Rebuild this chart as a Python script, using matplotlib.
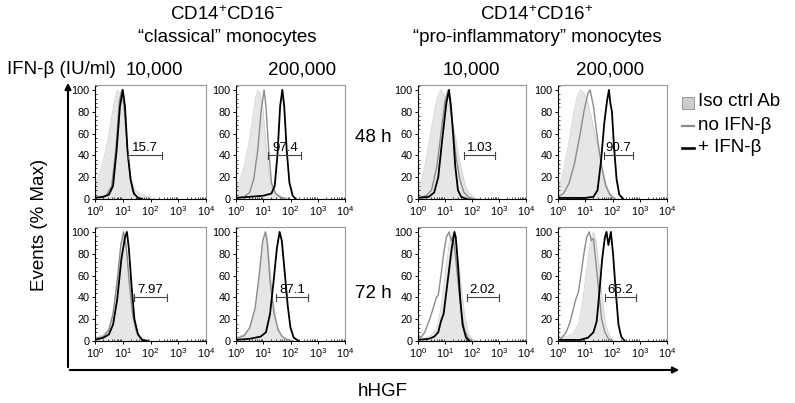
import matplotlib
matplotlib.use('Agg')
import matplotlib.pyplot as plt
from matplotlib.ticker import FixedLocator, MultipleLocator
import numpy as np

plt.rcParams['font.family'] = ['Liberation Sans', 'DejaVu Sans']
plt.rcParams['mathtext.fontset'] = 'custom'
plt.rcParams['mathtext.rm'] = 'Liberation Sans'
plt.rcParams['mathtext.it'] = 'Liberation Sans:italic'

#--- Datos: histogramas (x en decadas log10, y en % del maximo)
# 48 h, CD14+CD16-, 10,000
iso_48_c10 = [(0, 14), (0.15, 22), (0.3, 35), (0.45, 52), (0.6, 75), (0.72, 92), (0.8, 100), (0.9, 97), (1.0, 88),
              (1.1, 62), (1.2, 35), (1.3, 18), (1.45, 8), (1.6, 5), (1.8, 3), (2.0, 1), (2.2, 0)]
no_48_c10 = [(0, 1), (0.4, 3), (0.6, 12), (0.75, 45), (0.88, 90), (0.97, 100), (1.07, 80), (1.2, 35), (1.35, 8),
             (1.5, 2), (1.7, 0)]
ifn_48_c10 = [(0, 1), (0.3, 2), (0.5, 4), (0.65, 12), (0.78, 45), (0.9, 85), (1.0, 100), (1.08, 85), (1.17, 45),
              (1.28, 18), (1.4, 5), (1.55, 1), (1.7, 0)]
# 48 h, CD14+CD16-, 200,000
iso_48_c200 = [(0, 10), (0.15, 18), (0.3, 30), (0.45, 48), (0.6, 72), (0.72, 93), (0.8, 100), (0.9, 95), (1.0, 80),
               (1.1, 50), (1.2, 25), (1.32, 10), (1.5, 5), (1.7, 2), (1.9, 0)]
no_48_c200 = [(0, 1), (0.3, 2), (0.5, 6), (0.65, 18), (0.8, 45), (0.92, 80), (1.03, 100), (1.1, 85), (1.2, 45),
              (1.3, 15), (1.45, 5), (1.6, 2), (1.8, 0)]
ifn_48_c200 = [(0, 1), (0.5, 2), (1.0, 3), (1.3, 5), (1.42, 12), (1.52, 40), (1.62, 85), (1.7, 100), (1.77, 85),
               (1.86, 45), (1.96, 15), (2.08, 3), (2.2, 0)]
# 48 h, CD14+CD16+, 10,000
iso_48_p10 = [(0, 10), (0.1, 14), (0.25, 30), (0.4, 50), (0.55, 72), (0.7, 92), (0.85, 100), (0.95, 96), (1.1, 88),
              (1.25, 75), (1.4, 55), (1.5, 40), (1.6, 28), (1.75, 12), (1.9, 5), (2.1, 1), (2.3, 0)]
no_48_p10 = [(0, 1), (0.3, 3), (0.5, 8), (0.7, 30), (0.85, 60), (1.0, 90), (1.12, 100), (1.25, 75), (1.4, 40),
             (1.55, 18), (1.7, 6), (1.9, 1), (2.1, 0)]
ifn_48_p10 = [(0, 1), (0.4, 2), (0.6, 6), (0.75, 20), (0.9, 55), (1.05, 88), (1.15, 100), (1.22, 85), (1.3, 60),
              (1.38, 30), (1.48, 8), (1.6, 2), (1.8, 0)]
# 48 h, CD14+CD16+, 200,000
iso_48_p200 = [(0, 12), (0.1, 16), (0.25, 32), (0.4, 52), (0.55, 75), (0.7, 94), (0.82, 100), (0.95, 97), (1.1, 88),
               (1.25, 72), (1.4, 55), (1.55, 38), (1.7, 20), (1.85, 8), (2.0, 2), (2.2, 0)]
no_48_p200 = [(0, 2), (0.2, 5), (0.4, 14), (0.6, 32), (0.8, 58), (0.95, 80), (1.1, 97), (1.18, 100), (1.3, 85),
              (1.45, 55), (1.6, 30), (1.75, 12), (1.9, 4), (2.1, 0)]
ifn_48_p200 = [(0, 1), (1.0, 1), (1.3, 2), (1.45, 8), (1.58, 35), (1.7, 70), (1.8, 90), (1.87, 100), (1.92, 88),
               (1.98, 80), (2.05, 50), (2.15, 18), (2.25, 4), (2.4, 0)]
# 72 h, CD14+CD16-, 10,000
iso_72_c10 = [(0, 3), (0.3, 6), (0.5, 12), (0.65, 25), (0.8, 55), (0.92, 85), (1.02, 100), (1.12, 90), (1.22, 60),
              (1.32, 32), (1.45, 12), (1.6, 5), (1.8, 1), (2.0, 0)]
no_72_c10 = [(0, 2), (0.3, 4), (0.5, 10), (0.65, 25), (0.8, 55), (0.93, 88), (1.03, 100), (1.13, 85), (1.23, 55),
             (1.35, 25), (1.5, 8), (1.7, 1), (1.9, 0)]
ifn_72_c10 = [(0, 1), (0.3, 3), (0.5, 6), (0.65, 15), (0.8, 38), (0.95, 75), (1.08, 95), (1.15, 100), (1.22, 85),
              (1.32, 50), (1.42, 20), (1.55, 6), (1.7, 1), (1.9, 0)]
# 72 h, CD14+CD16-, 200,000
iso_72_c200 = [(0, 3), (0.3, 6), (0.5, 12), (0.7, 30), (0.85, 60), (0.98, 90), (1.08, 100), (1.15, 95), (1.25, 65),
               (1.35, 38), (1.5, 15), (1.65, 5), (1.85, 1), (2.0, 0)]
no_72_c200 = [(0, 2), (0.3, 5), (0.5, 12), (0.7, 30), (0.85, 60), (0.98, 92), (1.08, 100), (1.15, 90), (1.25, 55),
              (1.4, 25), (1.55, 10), (1.7, 4), (1.9, 1), (2.1, 0)]
ifn_72_c200 = [(0, 1), (0.5, 2), (0.9, 4), (1.1, 8), (1.25, 25), (1.38, 55), (1.5, 85), (1.6, 100), (1.68, 92),
               (1.78, 65), (1.9, 32), (2.0, 12), (2.12, 3), (2.3, 0)]
# 72 h, CD14+CD16+, 10,000
iso_72_p10 = [(0, 2), (0.3, 3), (0.5, 6), (0.7, 12), (0.85, 30), (1.0, 60), (1.15, 88), (1.3, 100), (1.4, 90),
              (1.5, 72), (1.6, 50), (1.72, 25), (1.85, 8), (2.0, 2), (2.2, 0)]
no_72_p10 = [(0, 6), (0.1, 3), (0.25, 8), (0.4, 18), (0.5, 25), (0.6, 33), (0.68, 40), (0.75, 42), (0.85, 60),
             (0.95, 80), (1.05, 95), (1.15, 100), (1.22, 92), (1.3, 96), (1.4, 75), (1.5, 50), (1.6, 28),
             (1.72, 10), (1.85, 3), (2.0, 0)]
ifn_72_p10 = [(0, 1), (0.4, 2), (0.6, 4), (0.75, 8), (0.85, 18), (0.95, 25), (1.05, 45), (1.15, 65), (1.25, 85),
              (1.35, 100), (1.4, 95), (1.48, 70), (1.56, 40), (1.65, 15), (1.78, 3), (1.9, 0)]
# 72 h, CD14+CD16+, 200,000
iso_72_p200 = [(0, 3), (0.3, 4), (0.55, 7), (0.75, 15), (0.9, 35), (1.05, 65), (1.18, 90), (1.3, 100), (1.4, 92),
               (1.5, 70), (1.62, 40), (1.75, 15), (1.9, 4), (2.1, 0)]
no_72_p200 = [(0, 5), (0.1, 2), (0.3, 8), (0.45, 18), (0.55, 28), (0.65, 38), (0.75, 45), (0.85, 62), (0.95, 80),
              (1.05, 95), (1.15, 100), (1.22, 92), (1.3, 94), (1.4, 70), (1.5, 45), (1.6, 20), (1.72, 8),
              (1.85, 2), (2.0, 0)]
ifn_72_p200 = [(0, 1), (0.8, 1), (1.1, 3), (1.3, 8), (1.42, 18), (1.52, 45), (1.62, 75), (1.72, 95), (1.78, 100),
               (1.85, 88), (1.94, 100), (2.02, 80), (2.12, 45), (2.22, 15), (2.32, 4), (2.45, 0)]

#--- Gates (inicio, fin en decadas) y porcentajes
gate_48 = [(1.2, 2.4), (1.18, 2.4), (1.72, 2.86), (1.68, 2.74)]
gate_72 = [(1.39, 2.6), (1.45, 2.66), (1.8, 2.99), (1.73, 2.85)]
pct_48 = ['15.7', '97.4', '1.03', '90.7']
pct_72 = ['7.97', '87.1', '2.02', '65.2']

curves_48 = [(iso_48_c10, no_48_c10, ifn_48_c10), (iso_48_c200, no_48_c200, ifn_48_c200),
             (iso_48_p10, no_48_p10, ifn_48_p10), (iso_48_p200, no_48_p200, ifn_48_p200)]
curves_72 = [(iso_72_c10, no_72_c10, ifn_72_c10), (iso_72_c200, no_72_c200, ifn_72_c200),
             (iso_72_p10, no_72_p10, ifn_72_p10), (iso_72_p200, no_72_p200, ifn_72_p200)]

W, H = 795, 403
fig = plt.figure(figsize=(W / 100, H / 100), dpi=100)


def px(x, y):
    """Pixel (desde arriba a la izquierda) a coordenadas de figura"""
    return x / W, 1 - y / H


col_x = [(95, 206), (236, 345), (418, 526), (558, 667)]
row_y = [(85, 199), (227, 341)]

iso_fill = '#e6e6e6'
iso_edge = '#d2d2d2'
gray_line = '#8c8c8c'


def panel(x0, x1, ytop, ybot, curves, gate, pct):
    ax = fig.add_axes([x0 / W, 1 - ybot / H, (x1 - x0) / W, (ybot - ytop) / H])
    iso, no, ifn = curves
    xi, yi = zip(*iso)
    ax.fill_between(xi, yi, 0, color=iso_fill, lw=0)
    ax.plot(xi, yi, color=iso_edge, lw=0.6)
    xn, yn = zip(*no)
    ax.plot(xn, yn, color=gray_line, lw=1.0)
    xb, yb = zip(*ifn)
    ax.plot(xb, yb, color='black', lw=1.3)
    # gate
    g0, g1 = gate
    ax.plot([g0, g1], [40, 40], color='#444444', lw=0.8)
    ax.plot([g0, g0], [37, 43], color='#444444', lw=0.8)
    ax.plot([g1, g1], [37, 43], color='#444444', lw=0.8)
    ax.text((g0 + g1) / 2, 41, pct, ha='center', va='bottom', fontsize=9.5)
    ax.set_xlim(0, 4)
    ax.set_ylim(0, 104.5)
    ax.set_xticks([0, 1, 2, 3, 4])
    ax.set_xticklabels([r'$10^{%d}$' % k for k in range(5)])
    minors = [k + np.log10(m) for k in range(4) for m in range(2, 10)]
    ax.xaxis.set_minor_locator(FixedLocator(minors))
    ax.set_yticks([0, 20, 40, 60, 80, 100])
    ax.yaxis.set_minor_locator(MultipleLocator(4))
    ax.tick_params(axis='both', which='major', labelsize=7.8, length=2.5, width=0.7, pad=1.5, direction='out')
    ax.tick_params(axis='both', which='minor', length=1.5, width=0.5, direction='in')
    for s in ['left', 'bottom']:
        ax.spines[s].set_color('black')
        ax.spines[s].set_linewidth(0.8)
    for s in ['top', 'right']:
        ax.spines[s].set_color('#999999')
        ax.spines[s].set_linewidth(0.8)
    return ax


for i in range(4):
    panel(col_x[i][0], col_x[i][1], row_y[0][0], row_y[0][1], curves_48[i], gate_48[i], pct_48[i])
    panel(col_x[i][0], col_x[i][1], row_y[1][0], row_y[1][1], curves_72[i], gate_72[i], pct_72[i])

#--- Ejes grandes con flechas
fig.add_artist(matplotlib.patches.FancyArrowPatch(px(68, 370), px(68, 80), arrowstyle='-|>', mutation_scale=9,
                                                   lw=1.5, color='black', transform=fig.transFigure))
fig.add_artist(matplotlib.patches.FancyArrowPatch(px(67, 370), px(682, 370), arrowstyle='-|>', mutation_scale=9,
                                                   lw=1.5, color='black', transform=fig.transFigure))

#--- Textos
fs = 13.5
fig.text(*px(227, 15), r'CD14$^{+}$CD16$^{-}$', ha='center', va='center', fontsize=fs)
fig.text(*px(227, 37), '\u201cclassical\u201d monocytes', ha='center', va='center', fontsize=fs)
fig.text(*px(537, 15), r'CD14$^{+}$CD16$^{+}$', ha='center', va='center', fontsize=fs)
fig.text(*px(537, 37), '\u201cpro-inflammatory\u201d monocytes', ha='center', va='center', fontsize=fs)
fig.text(*px(7, 70), 'IFN-\u03b2 (IU/ml)', ha='left', va='center', fontsize=fs)
dose_x = [154, 302, 471, 610]
dose_lbl = ['10,000', '200,000', '10,000', '200,000']
for xx, lbl in zip(dose_x, dose_lbl):
    fig.text(*px(xx, 70), lbl, ha='center', va='center', fontsize=fs)
fig.text(*px(373, 137), '48 h', ha='center', va='center', fontsize=fs)
fig.text(*px(373, 294), '72 h', ha='center', va='center', fontsize=fs)
fig.text(*px(40, 225), 'Events (% Max)', ha='center', va='center', rotation=90, fontsize=fs)
fig.text(*px(383, 391), 'hHGF', ha='center', va='center', fontsize=fs)

#--- Leyenda
fig.add_artist(matplotlib.patches.Rectangle(px(682, 109), 12 / W, 12 / H, facecolor='#cccccc',
                                            edgecolor='#8c8c8c', lw=0.6, transform=fig.transFigure))
fig.add_artist(matplotlib.lines.Line2D([682 / W, 694 / W], [1 - 126 / H] * 2, color=gray_line, lw=1.6))
fig.add_artist(matplotlib.lines.Line2D([682 / W, 694 / W], [1 - 148 / H] * 2, color='black', lw=1.9))
fig.text(*px(698, 102), 'Iso ctrl Ab', ha='left', va='center', fontsize=fs)
fig.text(*px(698, 126), 'no IFN-\u03b2', ha='left', va='center', fontsize=fs)
fig.text(*px(698, 148), '+ IFN-\u03b2', ha='left', va='center', fontsize=fs)

plt.savefig('out.png', dpi=100)
